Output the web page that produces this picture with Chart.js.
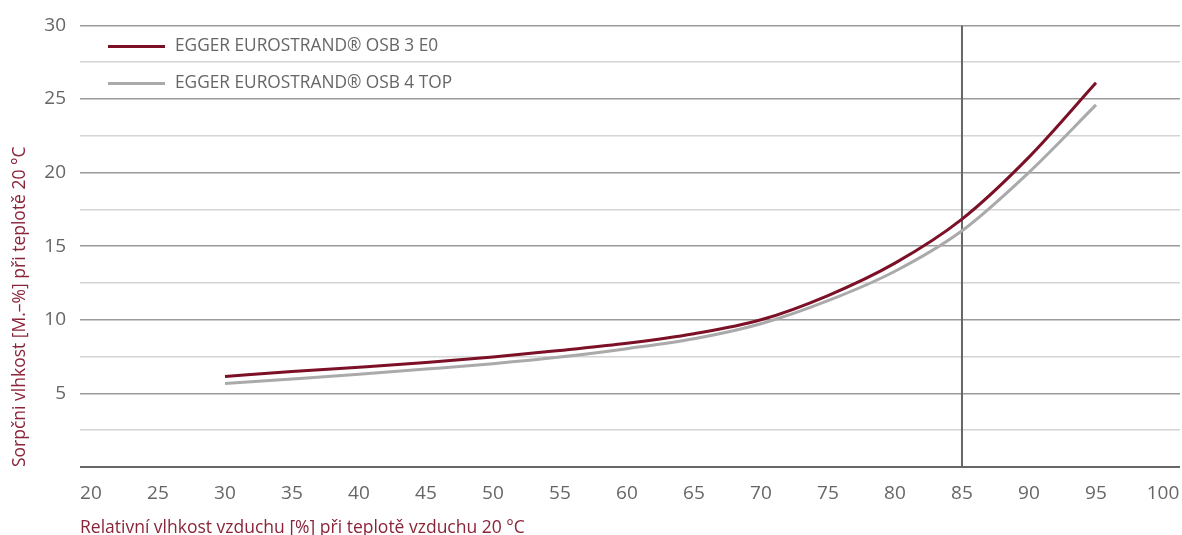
<!DOCTYPE html>
<html>
<head>
<meta charset="utf-8">
<script src="https://cdn.jsdelivr.net/npm/chart.js@4.4.1/dist/chart.umd.min.js"></script>
<style>
  html, body { margin: 0; padding: 0; background: #fff; }
  #wrap { width: 1182px; height: 535px; position: relative; }
</style>
</head>
<body>
<div id="wrap"><canvas id="chart"></canvas></div>
<script>
// relative humidity (x) and sorption moisture (y)
var humidity = [30, 35, 40, 45, 50, 55, 60, 65, 70, 75, 80, 85, 90, 95];
var osb3 = [6.15, 6.48, 6.78, 7.1, 7.47, 7.92, 8.4, 9.05, 10.0, 11.65, 13.85, 16.84, 21.05, 26.1];
var osb4 = [5.67, 5.98, 6.3, 6.65, 7.02, 7.47, 8.04, 8.71, 9.73, 11.3, 13.3, 16.05, 20.02, 24.6];
var seriesNames = ["EGGER EUROSTRAND\u00ae OSB 3 E0", "EGGER EUROSTRAND\u00ae OSB 4 TOP"];
var xTicks = [20, 25, 30, 35, 40, 45, 50, 55, 60, 65, 70, 75, 80, 85, 90, 95, 100];
var markerX = 85;
var yMin = 0, yMax = 30;

var RED = "#7b1027";
var GREY = "#aaaaaa";
var TEXT = "#666666";
var TITLE = "#8a2438";
var FONT = "'Open Sans', 'Noto Sans', sans-serif";

function pts(xs, ys) {
  return xs.map(function (x, i) { return {x: x, y: ys[i]}; });
}

// legend drawn inside the plot, top left
var innerLegend = {
  id: 'innerLegend',
  afterDatasetsDraw: function (chart) {
    var ctx = chart.ctx, a = chart.chartArea;
    var i = 0;
    ctx.save();
    chart.data.datasets.forEach(function (ds) {
      if (!ds.label) return;
      var y = a.top + 21 + i * 37;
      ctx.strokeStyle = ds.borderColor;
      ctx.lineWidth = 3;
      ctx.beginPath();
      ctx.moveTo(a.left + 28, y);
      ctx.lineTo(a.left + 85, y);
      ctx.stroke();
      ctx.fillStyle = TEXT;
      ctx.font = "17.3px " + FONT;
      ctx.textBaseline = "middle";
      ctx.textAlign = "left";
      ctx.fillText(ds.label, a.left + 95, y);
      i++;
    });
    ctx.restore();
  }
};

new Chart(document.getElementById("chart"), {
  type: 'line',
  data: {
    datasets: [
      {
        label: seriesNames[0],
        data: pts(humidity, osb3),
        borderColor: RED,
        borderWidth: 3,
        pointRadius: 0,
        cubicInterpolationMode: 'monotone'
      },
      {
        label: seriesNames[1],
        data: pts(humidity, osb4),
        borderColor: GREY,
        borderWidth: 3,
        pointRadius: 0,
        cubicInterpolationMode: 'monotone'
      },
      {
        label: '',
        data: [{x: markerX, y: yMin}, {x: markerX, y: yMax}],
        borderColor: "#666666",
        borderWidth: 2,
        pointRadius: 0
      }
    ]
  },
  options: {
    responsive: true,
    maintainAspectRatio: false,
    animation: false,
    layout: { padding: { top: 24, right: 2, left: 0, bottom: 0 } },
    plugins: {
      legend: { display: false },
      tooltip: { enabled: false }
    },
    scales: {
      x: {
        type: 'linear',
        min: 19.18,
        max: 101.27,
        afterBuildTicks: function (axis) {
          axis.ticks = xTicks.map(function (v) { return {value: v}; });
        },
        afterFit: function (axis) {
          axis.height = 68;
          axis.paddingLeft = 0;
          axis.paddingRight = 0;
        },
        grid: { display: false },
        border: { display: false },
        ticks: {
          autoSkip: false,
          maxRotation: 0,
          padding: 7,
          color: TEXT,
          font: { family: FONT, size: 19 }
        },
        title: {
          display: true,
          align: 'start',
          text: 'Relativní vlhkost vzduchu [%] při teplotě vzduchu 20 °C',
          color: TITLE,
          font: { family: FONT, size: 17.5, lineHeight: 1 },
          padding: { top: 0, bottom: -2 }
        }
      },
      y: {
        min: yMin,
        max: yMax,
        afterFit: function (axis) { axis.width = 80; },
        border: { display: false },
        grid: {
          drawTicks: false,
          color: function (c) {
            var v = c.tick.value;
            if (v === 0) return '#666666';
            return v % 5 === 0 ? '#9a9a9a' : '#d4d4d4';
          },
          lineWidth: function (c) { return c.tick.value === 0 ? 2 : 1.5; }
        },
        ticks: {
          stepSize: 2.5,
          padding: 14,
          color: TEXT,
          font: { family: FONT, size: 19 },
          callback: function (v) { return (v % 5 === 0 && v !== 0) ? v : ''; }
        },
        title: {
          display: true,
          align: 'start',
          text: 'Sorpčni vlhkost [M.–%] při teplotě 20 °C',
          color: TITLE,
          font: { family: FONT, size: 17.5, lineHeight: 1 },
          padding: { top: 11, bottom: 0 }
        }
      }
    }
  },
  plugins: [innerLegend]
});
</script>
</body>
</html>
